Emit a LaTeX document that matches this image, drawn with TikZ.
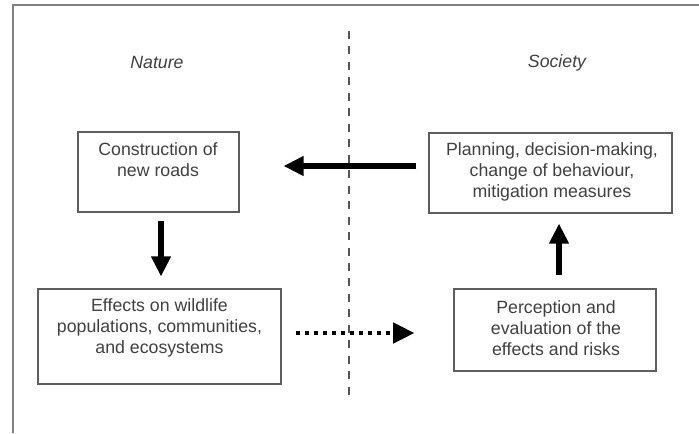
\documentclass[tikz,border=0pt]{standalone}
\usepackage{fontspec}
\setmainfont{Liberation Sans}
\usetikzlibrary{arrows.meta,calc}
\definecolor{txtc}{HTML}{404040}
\definecolor{boxc}{HTML}{5E5E5E}
\definecolor{framec}{HTML}{808080}
\definecolor{dashc}{HTML}{555555}
\tikzset{
  box/.style={draw=boxc, line width=0.8pt, rectangle, inner sep=0pt},
  boxtext/.style={align=center, inner sep=0pt, text=txtc, font=\fontsize{13.3}{15.75}\selectfont},
  heading/.style={anchor=base, inner sep=0pt, text=txtc, font=\fontsize{13.3}{15.75}\selectfont\itshape},
  bigarrow/.style={line width=4.5pt, -{Triangle[length=15pt,width=14pt]}},
  dotarrow/.style={line width=3.4pt, dash pattern=on 3.3pt off 3.45pt, -{Triangle[length=16pt,width=15pt]}},
  framepath/.style={draw=framec, line width=1.1pt},
  divider/.style={draw=dashc, line width=1.5pt, dash pattern=on 6pt off 5.6pt}
}
\begin{document}
\begin{tikzpicture}[x=0.75pt,y=-0.75pt]
\useasboundingbox (0,0) rectangle (699,433);
% frame
\coordinate (fbl) at (13,433);
\coordinate (ftl) at (13,5);
\coordinate (ftr) at (699,5);
\draw[framepath] (fbl) -- (ftl) -- (ftr);
% divider
\coordinate (dtop) at (349,31);
\coordinate (dbot) at (349,398);
\draw[divider] (dtop) -- (dbot);
% headings
\node[heading] (nature) at (157,68) {Nature};
\node[heading] (society) at (557,67) {Society};
% boxes
\node[box, minimum width=161*0.75pt, minimum height=80*0.75pt] (box1) at (158.5,172) {};
\node[box, minimum width=243*0.75pt, minimum height=80*0.75pt] (box2) at (550.5,173) {};
\node[box, minimum width=243*0.75pt, minimum height=95*0.75pt] (box3) at (159.5,336.5) {};
\node[box, minimum width=202*0.75pt, minimum height=82*0.75pt] (box4) at (555,330) {};
% texts
\node[boxtext] (t1) at (158,160) {Construction of\\new roads};
\node[boxtext] (t2) at (552,172) {Planning, decision-making,\\change of behaviour,\\mitigation measures};
\node[boxtext] (t3) at (159.5,328) {Effects on wildlife\\populations, communities,\\and ecosystems};
\node[boxtext] (t4) at (556,328) {Perception and\\evaluation of the\\effects and risks};
% arrows
\draw[bigarrow] ($(box2.west)+(-12,-7)$) -- ($(box1.east)+(44,-6)$);
\draw[bigarrow] ($(box1.south)+(2.5,8)$) -- ($(box3.north)+(1.5,-12)$);
\draw[bigarrow] ($(box4.north)+(4,-13)$) -- ($(box2.south)+(8.5,10)$);
\draw[dotarrow] ($(box3.east)+(14,-3.5)$) -- ($(box4.west)+(-39,3)$);
\end{tikzpicture}
\end{document}
